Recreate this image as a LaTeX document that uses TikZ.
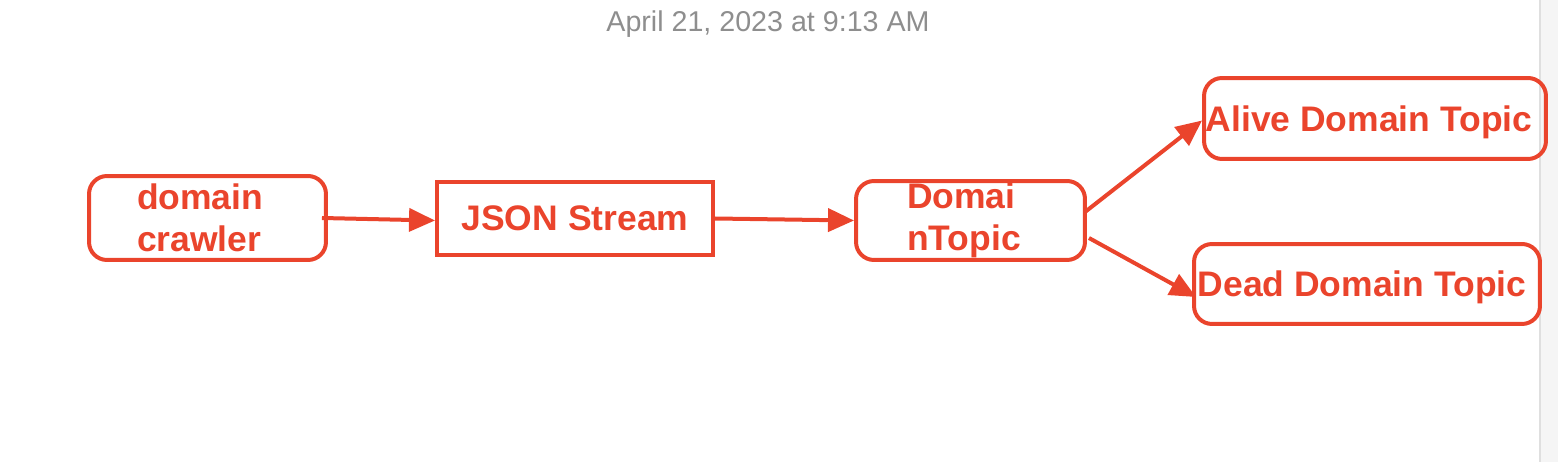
\documentclass[tikz,border=0pt]{standalone}
\usepackage{fontspec}
\setmainfont{Liberation Sans}
\usetikzlibrary{arrows.meta}

\definecolor{flowred}{RGB}{234,68,44}
\definecolor{stampgray}{RGB}{142,142,142}

\tikzset{
  box/.style={draw=flowred, line width=0.08cm, rounded corners=0.36cm,
    text=flowred, font=\fontsize{20.2}{24.2}\selectfont\bfseries, inner sep=0pt},
  plainbox/.style={box, rounded corners=0pt},
  flow/.style={draw=flowred, line width=0.08cm,
    -{Triangle[length=0.52cm, width=0.46cm]}, flowred}
}

\begin{document}
\begin{tikzpicture}[x=0.02cm, y=-0.02cm]
  \useasboundingbox (0,0) rectangle (1558,462);

  % scroll strip on the right
  \fill [gray!8] (1540,0) rectangle (1558,462);
  \draw [gray!25, line width=0.03cm] (1540,0) -- (1540,462);

  \node (stamp) at (768,24) [text=stampgray, font=\fontsize{16.3}{19}\selectfont] {April 21, 2023 at 9:13 AM};

  \node (crawler) at (207.5,218) [box, text width=2.82cm, inner xsep=0.96cm,
    minimum height=1.68cm, align=left] {domain\\crawler};
  \node (json) at (575,218.5) [plainbox, minimum width=5.52cm, minimum height=1.46cm,
    text depth=0pt] {JSON Stream};
  \node (topic) at (970.5,220.5) [box, text width=2.54cm, inner xsep=1.02cm,
    minimum height=1.58cm, align=left] {Domai\\nTopic};

  \node (alive) at (1375,118.5) [box, minimum width=6.84cm, minimum height=1.62cm,
    text depth=0pt] {Alive Domain Topic\hspace*{0.24cm}};
  \node (dead) at (1367,284) [box, minimum width=6.92cm, minimum height=1.6cm,
    text depth=0pt] {Dead Domain Topic\hspace*{0.2cm}};

  % arrows
  \draw [flow] ([xshift=-0.12cm]crawler.east) -- ([yshift=-0.04cm]json.west);
  \draw [flow] (json.east) -- (topic.west);
  \draw [flow] ([xshift=-0.04cm, yshift=0.17cm]topic.east) -- ([yshift=-0.04cm]alive.west);
  \draw [flow] ([xshift=0.04cm, yshift=-0.35cm]topic.east) -- ([xshift=0.08cm, yshift=-0.26cm]dead.west);

\end{tikzpicture}
\end{document}
